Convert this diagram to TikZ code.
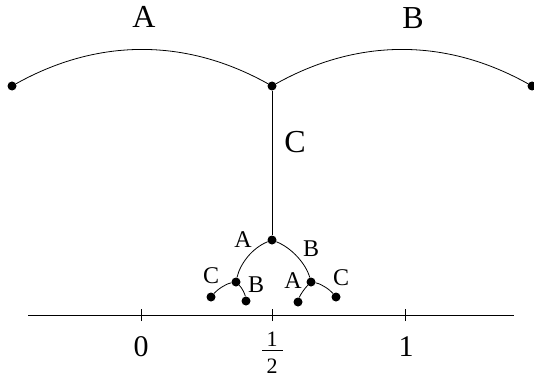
\documentclass[tikz,border=0pt]{standalone}
\usepackage{fontspec}
\setmainfont{Liberation Serif}
\begin{document}
\begin{tikzpicture}[x=1pt,y=-1pt,
  dot/.style={circle,fill=black,inner sep=0pt,minimum size=9pt},
  edge/.style={line width=0.8pt},
  biglab/.style={inner sep=0pt,font=\fontsize{32}{36}\selectfont},
  smalllab/.style={inner sep=0pt,font=\fontsize{24}{27}\selectfont},
  numlab/.style={inner sep=0pt,font=\fontsize{30}{34}\selectfont},
  fraclab/.style={inner sep=0pt,font=\fontsize{22}{25}\selectfont}]
\useasboundingbox (0,0) rectangle (534,377);
% top level
\node[dot] (L) at (12,86) {};
\node[dot] (M) at (272,86) {};
\node[dot] (R) at (532,86) {};
\draw[edge] (L) .. controls (98,38) and (186,38) .. (M);
\draw[edge] (M) .. controls (358,38) and (446,38) .. (R);
\node[biglab] (tA) at (144,17) {A};
\node[biglab] (tB) at (413,18) {B};
\node[biglab] (tC) at (295,142) {C};
% second level
\node[dot] (N) at (272,240) {};
\draw[edge] (M) -- (N);
\node[dot] (NL) at (236,282) {};
\node[dot] (NR) at (311,282) {};
\draw[edge] (N) .. controls (252,248) and (240,264) .. (NL);
\draw[edge] (N) .. controls (292,248) and (306,264) .. (NR);
\node[dot] (LL) at (211,297) {};
\node[dot] (LR) at (246,301) {};
\node[dot] (RL) at (298,302) {};
\node[dot] (RR) at (336,297) {};
\draw[edge] (NL) .. controls (225,284) and (217,290) .. (LL);
\draw[edge] (NL) .. controls (242,288) and (245,294) .. (LR);
\draw[edge] (NR) .. controls (305,288) and (300,295) .. (RL);
\draw[edge] (NR) .. controls (322,284) and (330,290) .. (RR);
\node[smalllab] (sA) at (243,240) {A};
\node[smalllab] (sB) at (311,249) {B};
\node[smalllab] (sC1) at (211,276) {C};
\node[smalllab] (sB2) at (256,285) {B};
\node[smalllab] (sA2) at (293,281) {A};
\node[smalllab] (sC2) at (341,278) {C};
% axis
\coordinate (ax0) at (28,315);
\coordinate (ax1) at (514,315);
\draw[line width=1pt] (ax0) -- (ax1);
\coordinate (t0) at (141,315);
\coordinate (th) at (272,315);
\coordinate (t1) at (405,315);
\foreach \t in {t0,th,t1} \draw[line width=0.8pt] ([yshift=-6pt]\t) -- ([yshift=6pt]\t);
\node[numlab] (n0) at (141,347) {0};
\node[numlab] (n1) at (406,347) {1};
\node[fraclab] (fnum) at (272,339.5) {1};
\node[fraclab] (fden) at (272,366) {2};
\coordinate (fb0) at (262,350);
\coordinate (fb1) at (283,350);
\draw[line width=0.9pt] (fb0) -- (fb1);
\end{tikzpicture}
\end{document}
